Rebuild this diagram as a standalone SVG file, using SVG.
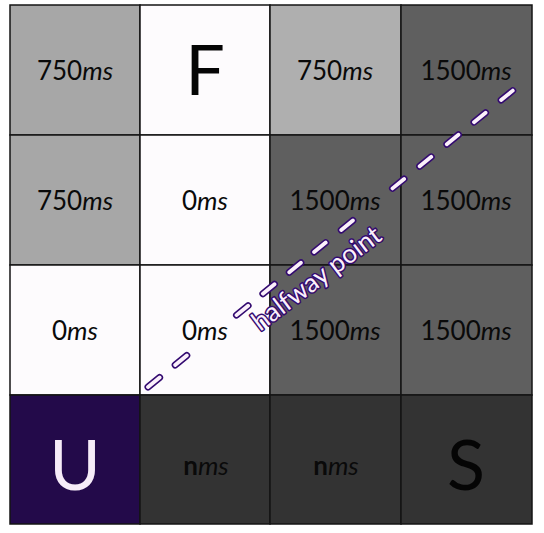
<svg xmlns="http://www.w3.org/2000/svg" width="544" height="533" viewBox="0 0 544 533">
<style>
.cell{stroke:#141414;stroke-width:1.5}
.t{font-family:Lato,"Open Sans","Liberation Sans",sans-serif;font-size:26px;fill:#0a0a0a;text-anchor:middle}
.i{font-style:italic}
.b{font-weight:bold}
.big{font-family:Lato,"Open Sans","Liberation Sans",sans-serif;font-size:70px;text-anchor:middle;fill:#050505}
.lbl{font-family:Lato,"Open Sans","Liberation Sans",sans-serif;font-size:26px;fill:#fbf0fb;stroke:#330a70;stroke-width:3px;paint-order:stroke;stroke-linejoin:round;text-anchor:middle}
.dash{stroke-linecap:round;stroke-dasharray:15 20 15 64 15 19 15 19 15 17 15 20 15 51 15 20 15 20 15 20 15 20 15 30}
</style>
<rect width="544" height="533" fill="#ffffff"/>
<g id="r0c0"><rect class="cell" x="10" y="5" width="130" height="130" fill="#a7a7a7"/><text class="t" x="75" y="80">750<tspan class="i">ms</tspan></text></g>
<g id="r0c1"><rect class="cell" x="140" y="5" width="130" height="130" fill="#fdfbfd"/><text class="big" x="205" y="95">F</text></g>
<g id="r0c2"><rect class="cell" x="270" y="5" width="131" height="130" fill="#afafaf"/><text class="t" x="335" y="80">750<tspan class="i">ms</tspan></text></g>
<g id="r0c3"><rect class="cell" x="401" y="5" width="131" height="130" fill="#5f5f5f"/><text class="t" x="466" y="80">1500<tspan class="i">ms</tspan></text></g>
<g id="r1c0"><rect class="cell" x="10" y="135" width="130" height="130" fill="#a7a7a7"/><text class="t" x="75" y="210">750<tspan class="i">ms</tspan></text></g>
<g id="r1c1"><rect class="cell" x="140" y="135" width="130" height="130" fill="#fdfbfd"/><text class="t" x="205" y="210">0<tspan class="i">ms</tspan></text></g>
<g id="r1c2"><rect class="cell" x="270" y="135" width="131" height="130" fill="#5f5f5f"/><text class="t" x="335" y="210">1500<tspan class="i">ms</tspan></text></g>
<g id="r1c3"><rect class="cell" x="401" y="135" width="131" height="130" fill="#5f5f5f"/><text class="t" x="466" y="210">1500<tspan class="i">ms</tspan></text></g>
<g id="r2c0"><rect class="cell" x="10" y="265" width="130" height="130" fill="#fdfbfd"/><text class="t" x="75" y="340">0<tspan class="i">ms</tspan></text></g>
<g id="r2c1"><rect class="cell" x="140" y="265" width="130" height="130" fill="#fdfbfd"/><text class="t" x="205" y="340">0<tspan class="i">ms</tspan></text></g>
<g id="r2c2"><rect class="cell" x="270" y="265" width="131" height="130" fill="#5f5f5f"/><text class="t" x="335" y="340">1500<tspan class="i">ms</tspan></text></g>
<g id="r2c3"><rect class="cell" x="401" y="265" width="131" height="130" fill="#5f5f5f"/><text class="t" x="466" y="340">1500<tspan class="i">ms</tspan></text></g>
<g id="r3c0"><rect class="cell" x="10" y="395" width="130" height="129" fill="#230a4a"/><text class="big" x="75" y="490" style="fill:#f6ecf8">U</text></g>
<g id="r3c1"><rect class="cell" x="140" y="395" width="130" height="129" fill="#333333"/><text class="t" x="206" y="475"><tspan class="b">n</tspan><tspan class="i">ms</tspan></text></g>
<g id="r3c2"><rect class="cell" x="270" y="395" width="131" height="129" fill="#333333"/><text class="t" x="336" y="475"><tspan class="b">n</tspan><tspan class="i">ms</tspan></text></g>
<g id="r3c3"><rect class="cell" x="401" y="395" width="131" height="129" fill="#333333"/><text class="big" x="466" y="490">S</text></g>
<g id="connectors">
<line class="dash" x1="148" y1="387" x2="516" y2="88" stroke="#330a70" stroke-width="7"/>
<line class="dash" x1="148" y1="387" x2="516" y2="88" stroke="#fbf0fb" stroke-width="3.8"/>
<text class="lbl" transform="translate(317,279) rotate(-37)" x="0" y="8">halfway point</text>
</g>
</svg>
